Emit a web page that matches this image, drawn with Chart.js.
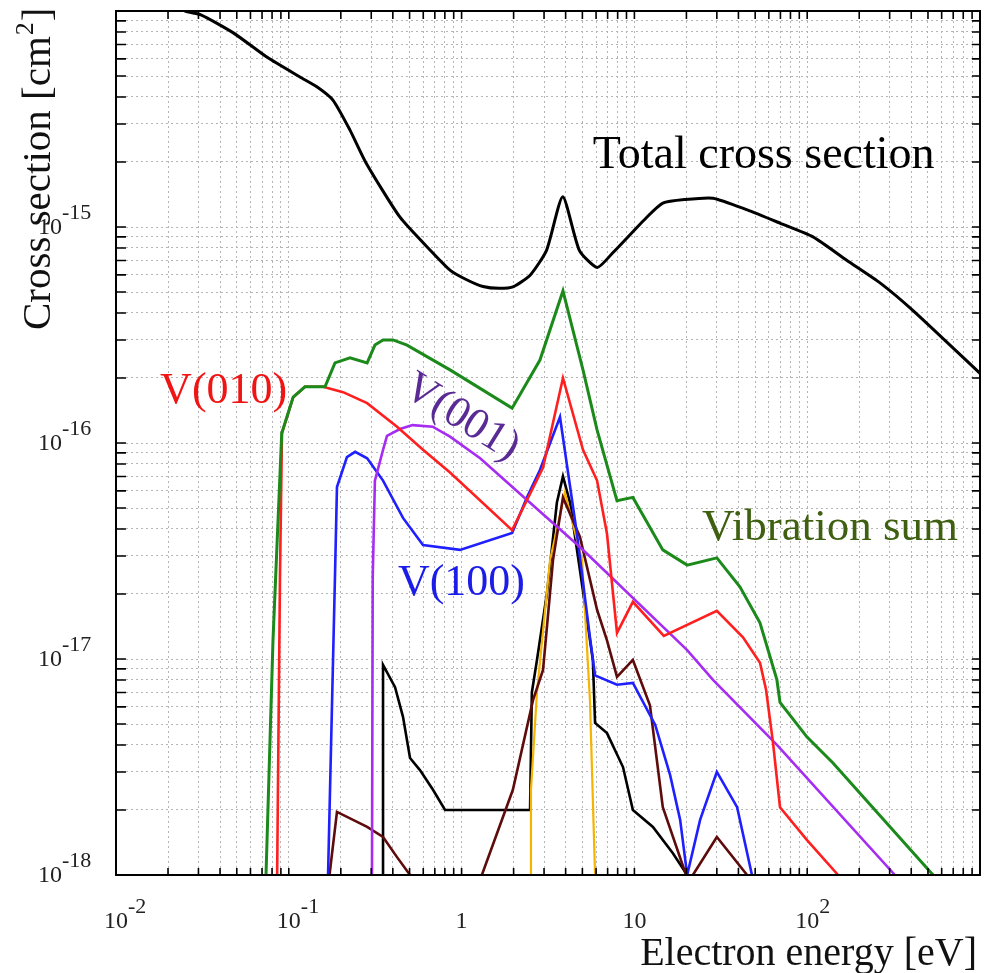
<!DOCTYPE html>
<html>
<head>
<meta charset="utf-8">
<script src="https://cdn.jsdelivr.net/npm/chart.js@4.4.0/dist/chart.umd.min.js"></script>
<style>
  html, body { margin: 0; padding: 0; background: #fff; }
  #wrap { width: 989px; height: 973px; }
</style>
</head>
<body>
<div id="wrap"><canvas id="chart" width="989" height="973"></canvas></div>
<script>
// electron energy in eV, cross sections in cm^2
const totalE = [0.022, 0.025, 0.031, 0.048, 0.075, 0.116, 0.146, 0.18, 0.226, 0.28, 0.44, 0.68, 0.86, 1.07, 1.33, 1.65, 2.0, 2.5, 3.1, 3.85, 4.8, 6.1, 7.5, 11.8, 14.6, 19.5, 28.5, 45, 70, 108, 170, 265, 410, 1000]
const totalS = [1.1e-14, 1.0e-14, 9.6e-15, 7.9e-15, 6.1e-15, 4.95e-15, 4.45e-15, 3.87e-15, 2.81e-15, 1.98e-15, 1.11e-15, 7.6e-16, 6.3e-16, 5.7e-16, 5.3e-16, 5.2e-16, 5.3e-16, 6.0e-16, 7.8e-16, 1.38e-15, 7.8e-16, 6.5e-16, 7.6e-16, 1.11e-15, 1.29e-15, 1.34e-15, 1.36e-15, 1.2e-15, 1.04e-15, 9.0e-16, 7.0e-16, 5.5e-16, 4.1e-16, 2.1e-16]

const sumE = [0.0738, 0.081, 0.091, 0.106, 0.124, 0.162, 0.185, 0.226, 0.284, 0.315, 0.351, 0.401, 0.483, 0.857, 1.96, 2.84, 3.86, 5.04, 6.08, 7.93, 9.8, 14.6, 20.2, 30, 40.8, 53.3, 66.8, 69.6, 99.8, 141, 535]
const sumS = [1e-18, 1.22e-17, 1.11e-16, 1.63e-16, 1.82e-16, 1.82e-16, 2.35e-16, 2.48e-16, 2.35e-16, 2.84e-16, 3.0e-16, 3.0e-16, 2.84e-16, 2.18e-16, 1.45e-16, 2.42e-16, 5.06e-16, 2.18e-16, 1.15e-16, 5.4e-17, 5.6e-17, 3.2e-17, 2.72e-17, 2.94e-17, 2.16e-17, 1.47e-17, 8.0e-18, 6.3e-18, 4.35e-18, 3.3e-18, 1e-18]

const v010E = [0.0856, 0.0889, 0.0913, 0.106, 0.124, 0.158, 0.206, 0.284, 0.423, 0.598, 0.857, 1.96, 2.96, 3.86, 5.04, 6.08, 6.94, 7.93, 9.8, 14.8, 30, 42.5, 53.3, 57.8, 63.4, 69.6, 99.8, 151]
const v010S = [1e-18, 2.4e-17, 1.11e-16, 1.63e-16, 1.82e-16, 1.82e-16, 1.72e-16, 1.53e-16, 1.19e-16, 9.3e-17, 7.3e-17, 3.95e-17, 7.7e-17, 2.0e-16, 9.3e-17, 6.7e-17, 3.8e-17, 1.32e-17, 1.84e-17, 1.28e-17, 1.67e-17, 1.26e-17, 9.6e-18, 7.2e-18, 4.1e-18, 2.06e-18, 1.45e-18, 1e-18]

const v100E = [0.1687, 0.185, 0.19, 0.217, 0.242, 0.284, 0.351, 0.458, 0.598, 0.979, 1.96, 2.39, 2.84, 3.71, 4.66, 5.53, 5.92, 7.93, 9.8, 13.2, 16.1, 18.4, 20.2, 24, 30, 39.3, 47.9]
const v100S = [1e-18, 2.4e-17, 6.25e-17, 8.6e-17, 9.1e-17, 8.5e-17, 6.7e-17, 4.5e-17, 3.37e-17, 3.2e-17, 3.83e-17, 5.6e-17, 7.5e-17, 1.32e-16, 3.75e-17, 1.26e-17, 8.4e-18, 7.6e-18, 7.75e-18, 4.95e-18, 2.9e-18, 1.8e-18, 1e-18, 1.8e-18, 3.0e-18, 2.06e-18, 1e-18]

const v001E = [0.303, 0.306, 0.315, 0.351, 0.37, 0.44, 0.52, 0.68, 0.857, 1.28, 2.39, 4.84, 20.2, 28.5, 66.8, 322]
const v001S = [1e-18, 2.4e-17, 6.7e-17, 9.3e-17, 1.08e-16, 1.16e-16, 1.21e-16, 1.19e-16, 1.07e-16, 8.5e-17, 5.45e-17, 3.3e-17, 1.1e-17, 8.0e-18, 4.0e-18, 1e-18]

const lowBlackE = [0.351, 0.351, 0.412, 0.458, 0.503, 0.574, 0.683, 0.802, 2.49, 2.55, 2.73, 3.12, 3.56, 3.86, 4.24, 4.84, 5.75, 5.92, 6.94, 8.59, 9.8, 12.8, 16.7, 20.2]
const lowBlackS = [1e-18, 9.4e-18, 7.4e-18, 5.4e-18, 3.48e-18, 3.06e-18, 2.48e-18, 2.0e-18, 2.0e-18, 7.0e-18, 9.9e-18, 2.02e-17, 5.3e-17, 7.0e-17, 5.3e-17, 2.58e-17, 9.9e-18, 5.06e-18, 4.54e-18, 3.16e-18, 2.0e-18, 1.67e-18, 1.26e-18, 1e-18]

const brownE = [0.172, 0.19, 0.284, 0.351, 0.423, 0.503, 0.8, 1.31, 1.98, 2.59, 2.96, 3.38, 3.86, 4.84, 6.08, 6.94, 7.93, 9.8, 12.3, 14.6, 19.9, 21, 21.8, 30, 44.9]
const brownS = [1e-18, 1.96e-18, 1.67e-18, 1.5e-18, 1.21e-18, 1e-18, null, 1e-18, 2.48e-18, 6.45e-18, 8.9e-18, 2.87e-17, 5.6e-17, 3.67e-17, 1.69e-17, 1.22e-17, 8.26e-18, 9.9e-18, 6.1e-18, 2.06e-18, 1e-18, null, 1e-18, 1.5e-18, 1e-18]

const orangeE = [2.49, 2.52, 2.73, 3.25, 3.96, 4.98, 5.53, 5.92]
const orangeS = [1e-18, 2.48e-18, 7.0e-18, 2.87e-17, 5.9e-17, 2.87e-17, 6.45e-18, 1e-18]

// axis decades and labelled ticks
const energyDecades = [1e-2, 1e-1, 1, 10, 100, 1000]
const sectionDecades = [1e-18, 1e-17, 1e-16, 1e-15, 1e-14]
const energyTickValues = [1e-2, 1e-1, 1, 10, 100]
const energyTickBase = ['10', '10', '1', '10', '10']
const energyTickExp = ['-2', '-1', '', '', '2']
const sectionTickValues = [1e-15, 1e-16, 1e-17, 1e-18]
const sectionTickExp = ['-15', '-16', '-17', '-18']

const serif = '"Liberation Serif", "Times New Roman", serif'

// curve labels, anchored in data coordinates
const notes = [
  { text: 'Total cross section', e: 5.75, s: 1.87e-15, color: '#000000', angle: 0, size: 46 },
  { text: 'V(010)', e: 0.018, s: 1.53e-16, color: '#f01414', angle: 0, size: 44 },
  { text: 'V(100)', e: 0.428, s: 1.98e-17, color: '#1c1ce8', angle: 0, size: 44 },
  { text: 'Vibration sum', e: 24.6, s: 3.56e-17, color: '#3e6010', angle: 0, size: 45 },
  { text: 'V(001)', e: 1.0, s: 1.31e-16, color: '#5b2b95', angle: 32, size: 44, centered: true },
]

const minorTicks = decades => {
  const out = []
  decades.forEach((d, i) => {
    if (i === decades.length - 1) {
      out.push(d)
      return
    }
    for (let k = 1; k < 10; k++) out.push(+(k * d).toPrecision(3))
  })
  return out
}

const curve = (label, E, S, color, width, tension = 0) => ({
  label,
  data: E.map((x, i) => ({ x, y: S[i] })),
  borderColor: color,
  borderWidth: width,
  pointRadius: 0,
  fill: false,
  tension,
})

const frame = {
  id: 'frame',
  afterDatasetsDraw(chart) {
    const { ctx, chartArea: a, scales } = chart
    const x = scales.x
    const y = scales.y
    ctx.save()

    // inward tick marks on all four sides
    ctx.strokeStyle = '#000'
    ctx.lineWidth = 1.6
    ctx.beginPath()
    x.ticks.forEach(t => {
      const px = x.getPixelForValue(t.value)
      ctx.moveTo(px, a.bottom)
      ctx.lineTo(px, a.bottom - 7)
      ctx.moveTo(px, a.top)
      ctx.lineTo(px, a.top + 8)
    })
    y.ticks.forEach(t => {
      const py = y.getPixelForValue(t.value)
      ctx.moveTo(a.left, py)
      ctx.lineTo(a.left + 10, py)
      ctx.moveTo(a.right, py)
      ctx.lineTo(a.right - 8, py)
    })
    ctx.stroke()

    ctx.lineWidth = 2
    ctx.strokeRect(a.left, a.top, a.right - a.left, a.bottom - a.top)

    // tick labels with raised exponents
    ctx.fillStyle = '#222'
    energyTickValues.forEach((v, i) => {
      const px = x.getPixelForValue(v)
      ctx.font = `24px ${serif}`
      ctx.textAlign = 'center'
      ctx.textBaseline = 'alphabetic'
      ctx.fillText(energyTickBase[i], px, a.bottom + 53)
      if (energyTickExp[i]) {
        ctx.font = `22px ${serif}`
        ctx.textAlign = 'left'
        ctx.fillText(energyTickExp[i], px + 12, a.bottom + 38)
      }
    })
    sectionTickValues.forEach((v, i) => {
      const py = y.getPixelForValue(v)
      ctx.font = `24px ${serif}`
      ctx.textAlign = 'right'
      ctx.fillText('10', a.left - 54, py + 7)
      ctx.font = `22px ${serif}`
      ctx.textAlign = 'left'
      ctx.fillText(sectionTickExp[i], a.left - 54, py - 8)
    })

    // axis titles
    ctx.fillStyle = '#111'
    ctx.font = `40px ${serif}`
    ctx.textAlign = 'right'
    ctx.fillText('Electron energy [eV]', a.right - 3, a.bottom + 90)

    ctx.save()
    ctx.translate(a.left - 66, a.bottom - 545)
    ctx.rotate(-Math.PI / 2)
    ctx.textAlign = 'left'
    ctx.font = `41px ${serif}`
    const head = 'Cross section [cm'
    ctx.fillText(head, 0, 0)
    let w = ctx.measureText(head).width
    ctx.font = `26px ${serif}`
    ctx.fillText('2', w + 1, -17)
    w += ctx.measureText('2').width + 2
    ctx.font = `41px ${serif}`
    ctx.fillText(']', w, 0)
    ctx.restore()

    // curve labels
    notes.forEach(n => {
      ctx.save()
      ctx.translate(x.getPixelForValue(n.e), y.getPixelForValue(n.s))
      ctx.rotate((n.angle * Math.PI) / 180)
      ctx.font = `${n.size}px ${serif}`
      ctx.fillStyle = n.color
      ctx.textAlign = n.centered ? 'center' : 'left'
      ctx.textBaseline = n.centered ? 'middle' : 'alphabetic'
      ctx.fillText(n.text, 0, 0)
      ctx.restore()
    })

    ctx.restore()
  },
}

const logAxis = (min, max, decades) => ({
  type: 'logarithmic',
  min,
  max,
  afterBuildTicks: scale => {
    scale.ticks = minorTicks(decades).map(value => ({ value }))
  },
  ticks: { display: false },
  grid: { color: '#b5b5b5', lineWidth: 1, drawTicks: false },
  border: { display: false, dash: [2, 3] },
})

const ctx = document.getElementById('chart').getContext('2d')

const chart = new Chart(ctx, {
  type: 'line',
  data: {
    datasets: [
      curve('Vibration sum', sumE, sumS, '#1b8a1b', 3),
      curve('V(010)', v010E, v010S, '#ff1f1f', 2.6),
      curve('V(001)', v001E, v001S, '#a62cf2', 2.6),
      curve('V(100)', v100E, v100S, '#1f1fff', 2.6),
      curve('brown', brownE, brownS, '#5e0b0b', 2.6),
      curve('orange', orangeE, orangeS, '#f5b400', 2.2),
      curve('black', lowBlackE, lowBlackS, '#000000', 2.6),
      curve('Total cross section', totalE, totalS, '#000000', 3, 0.2),
    ],
  },
  options: {
    responsive: false,
    animation: false,
    spanGaps: false,
    layout: { padding: { left: 116, right: 9, top: 11, bottom: 98 } },
    plugins: { legend: { display: false }, tooltip: { enabled: false } },
    scales: {
      x: logAxis(1e-2, 1e3, energyDecades),
      y: logAxis(1e-18, 1e-14, sectionDecades),
    },
  },
  plugins: [frame],
})
</script>
</body>
</html>
